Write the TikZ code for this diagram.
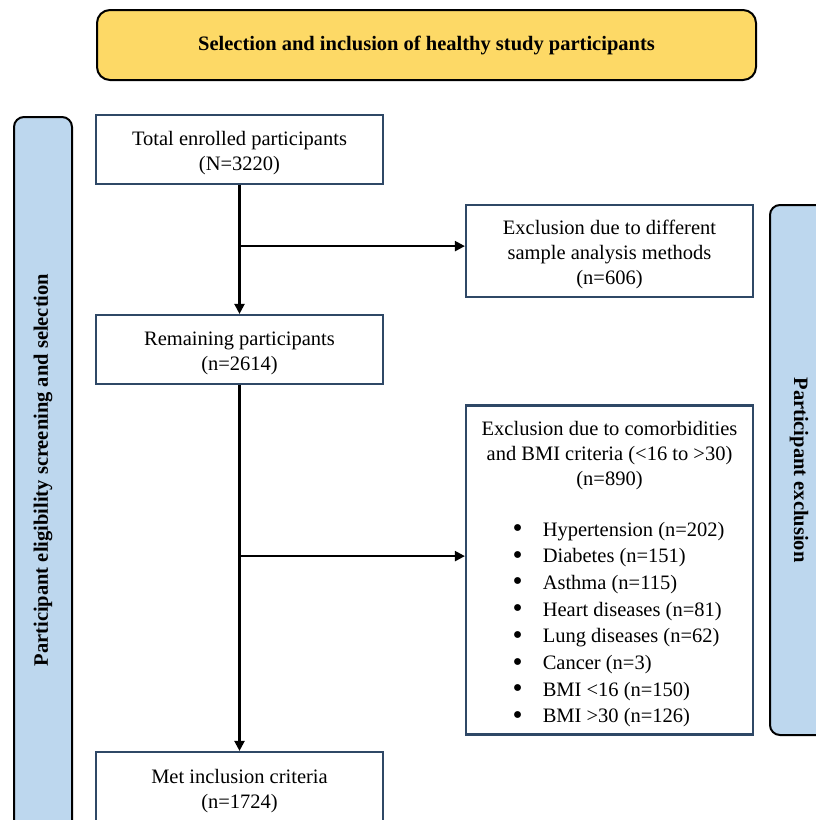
\documentclass[tikz,border=0pt]{standalone}
\usepackage{fontspec}
\setmainfont{Liberation Serif}
\usetikzlibrary{arrows.meta,calc}
\definecolor{hdrfill}{RGB}{253,217,102}
\definecolor{barfill}{RGB}{189,215,238}
\definecolor{boxline}{RGB}{47,72,102}
\newcommand\fbtext[1]{\raisebox{-3pt}[\height][\depth]{\begin{tabular}{@{}c@{}}#1\end{tabular}}}
\newcommand\bigbul{\raisebox{-1.5pt}[0pt][0pt]{\scalebox{1.4}{•}}}
\tikzset{
  flowbox/.style={draw=boxline, line width=2.2pt, fill=white, rectangle,
    minimum width=287pt, align=center, inner sep=0pt,
    font=\fontsize{20.5}{25}\selectfont},
  sidebar/.style={draw=black, line width=2pt, fill=barfill, rounded corners=10pt},
  sidetext/.style={font=\fontsize{20.5}{25}\selectfont\bfseries},
  flowarrow/.style={line width=2.2pt, -{Triangle[length=10pt,width=10pt]}}
}
\begin{document}
\begin{tikzpicture}[x=1pt,y=-1pt]
\path[use as bounding box] (0,0) rectangle (816,820);
% header
\node[draw=black, line width=2pt, fill=hdrfill, rounded corners=13pt,
  minimum width=659pt, minimum height=70pt, inner sep=0pt,
  font=\fontsize{20.5}{25}\selectfont\bfseries] (hdr) at (426.5,45)
  {Selection and inclusion of healthy study participants};
% side bars
\draw[sidebar] (14,117) rectangle (72,850);
\node[sidetext, rotate=90] (lefttxt) at (43,470) {Participant eligibility screening and selection};
\draw[sidebar] (770,205) rectangle (840,735);
\node[sidetext, rotate=-90] (righttxt) at (799,470) {Participant exclusion};
% boxes
\node[flowbox, minimum height=69pt] (b1) at (239.5,149.5) {\fbtext{Total enrolled participants\\(N=3220)}};
\node[flowbox, minimum height=92pt] (b2) at (609.5,251) {\fbtext{Exclusion due to different\\sample analysis methods\\(n=606)}};
\node[flowbox, minimum height=69pt] (b3) at (239.5,349.5) {\fbtext{Remaining participants\\(n=2614)}};
\node[flowbox, minimum height=329pt] (b4) at (609.5,570) {};
\node[align=center, inner sep=0pt, font=\fontsize{20.5}{25}\selectfont] (b4title) at (609.5,456)
  {Exclusion due to comorbidities\\and BMI criteria (<16 to >30)\\(n=890)};
\node[anchor=base west, inner sep=0pt, font=\fontsize{20.5}{26.7}\selectfont] (b4list) at (512.5,536)
  {\begin{tabular}[t]{@{}l@{\hspace{20pt}}l@{}}
  \bigbul & Hypertension (n=202)\\
  \bigbul & Diabetes (n=151)\\
  \bigbul & Asthma (n=115)\\
  \bigbul & Heart diseases (n=81)\\
  \bigbul & Lung diseases (n=62)\\
  \bigbul & Cancer (n=3)\\
  \bigbul & BMI <16 (n=150)\\
  \bigbul & BMI >30 (n=126)
  \end{tabular}};
\node[flowbox, minimum height=72pt] (b5) at (239.5,788) {\fbtext{Met inclusion criteria\\(n=1724)}};
% connectors
\coordinate (j1) at ($(b1.south)+(0,61)$);
\coordinate (j2) at ($(b3.south)+(0,171)$);
\draw[flowarrow] (b1.south) -- (b3.north);
\draw[flowarrow] (j1) -- (j1 -| b2.west);
\draw[flowarrow] (b3.south) -- (b5.north);
\draw[flowarrow] (j2) -- (j2 -| b4.west);
\end{tikzpicture}
\end{document}
